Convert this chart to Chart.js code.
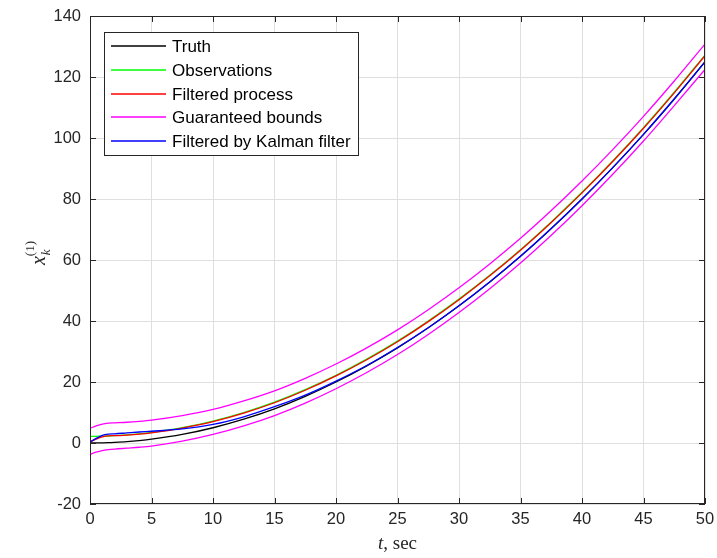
<!DOCTYPE html>
<html>
<head>
<meta charset="utf-8">
<script src="https://cdn.jsdelivr.net/npm/chart.js@4.4.0/dist/chart.umd.min.js"></script>
<style>
  html, body { margin: 0; padding: 0; background: #ffffff; }
  #wrap { width: 717px; height: 558px; }
</style>
</head>
<body>
<div id="wrap"><canvas id="chart"></canvas></div>
<script>
// time samples (sec), denser at the start where the filters settle
const times = [0, 0.5, 1, 1.5, 2, 3, 4, 5, 7.5, 10, 12.5, 15, 17.5, 20, 22.5, 25, 27.5, 30, 32.5, 35, 37.5, 40, 42.5, 45, 47.5, 50];

const truth        = [0, 0.02, 0.05, 0.1, 0.2, 0.45, 0.8, 1.25, 2.8, 5.0, 7.8, 11.2, 15.3, 20.0, 25.3, 31.2, 37.8, 45.0, 52.8, 61.2, 70.3, 80.0, 90.3, 101.2, 112.8, 125.0];
const observations = [2.2, 2.2, 2.25, 2.3, 2.4, 2.65, 3.0, 3.45, 5.0, 7.2, 10.0, 13.4, 17.5, 22.2, 27.5, 33.4, 40.0, 47.2, 55.0, 63.4, 72.5, 82.2, 92.5, 103.4, 115.0, 127.2];
const filtered     = [0.4, 1.3, 2.0, 2.35, 2.4, 2.6, 2.9, 3.35, 4.9, 7.0, 9.8, 13.2, 17.3, 22.0, 27.3, 33.2, 39.8, 47.0, 54.8, 63.2, 72.3, 82.0, 92.3, 103.2, 114.8, 127.0];
const upperBound   = [4.8, 5.6, 6.2, 6.5, 6.6, 6.8, 7.1, 7.5, 9.0, 11.0, 13.8, 17.1, 21.2, 25.9, 31.2, 37.1, 43.7, 50.9, 58.7, 67.1, 76.2, 85.9, 96.2, 107.1, 118.7, 130.8];
const lowerBound   = [-3.7, -3.0, -2.5, -2.2, -2.0, -1.7, -1.4, -1.0, 0.6, 2.8, 5.6, 9.0, 13.1, 17.8, 23.1, 29.0, 35.6, 42.8, 50.6, 59.0, 68.1, 77.8, 88.1, 99.0, 110.6, 122.5];
const kalman       = [0.3, 1.5, 2.5, 2.9, 3.0, 3.3, 3.6, 3.85, 4.6, 6.1, 8.6, 11.9, 15.7, 20.3, 25.4, 31.3, 37.8, 45.0, 52.8, 61.2, 70.3, 80.0, 90.3, 101.2, 112.8, 124.9];

const xTicks = [0, 5, 10, 15, 20, 25, 30, 35, 40, 45, 50];
const yTicks = [-20, 0, 20, 40, 60, 80, 100, 120, 140];

const legendLabels = ['Truth', 'Observations', 'Filtered process', 'Guaranteed bounds', 'Filtered by Kalman filter'];
const legendColors = ['#000000', '#00ff00', '#ff0000', '#ff00ff', '#0000ff'];

const axisColor = '#262626';
const gridColor = '#dfdfdf';
const tickFont = { family: 'Liberation Sans, Arial, sans-serif', size: 16.5 };

function pts(ys) {
  return times.map((t, i) => ({ x: t, y: ys[i] }));
}

function line(label, ys, color, order) {
  return {
    label: label,
    data: pts(ys),
    borderColor: color,
    backgroundColor: color,
    borderWidth: 1.3,
    pointRadius: 0,
    fill: false,
    cubicInterpolationMode: 'monotone',
    order: order
  };
}

// box, inward ticks, legend and axis titles (MATLAB look)
const matlabFrame = {
  id: 'matlabFrame',
  afterDraw(chart) {
    const ctx = chart.ctx;
    const a = chart.chartArea;
    const xs = chart.scales.x, ys = chart.scales.y;
    ctx.save();
    ctx.strokeStyle = axisColor;
    ctx.lineWidth = 1;
    ctx.strokeRect(Math.round(a.left) + 0.5, Math.round(a.top) + 0.5, Math.round(a.right - a.left) - 1, Math.round(a.bottom - a.top) - 1);

    const tl = 6;
    ctx.beginPath();
    xTicks.forEach(v => {
      const px = Math.round(xs.getPixelForValue(v)) + 0.5;
      ctx.moveTo(px, a.bottom); ctx.lineTo(px, a.bottom - tl);
      ctx.moveTo(px, a.top); ctx.lineTo(px, a.top + tl);
    });
    yTicks.forEach(v => {
      const py = Math.round(ys.getPixelForValue(v)) + 0.5;
      ctx.moveTo(a.left, py); ctx.lineTo(a.left + tl, py);
      ctx.moveTo(a.right, py); ctx.lineTo(a.right - tl, py);
    });
    ctx.stroke();

    // legend
    const lx = 104, ly = 32, lw = 254, lh = 123;
    ctx.fillStyle = '#ffffff';
    ctx.fillRect(lx, ly, lw, lh);
    ctx.strokeStyle = axisColor;
    ctx.lineWidth = 1;
    ctx.strokeRect(lx + 0.5, ly + 0.5, lw, lh);
    ctx.font = '17px "Liberation Sans", Arial, sans-serif';
    ctx.textBaseline = 'middle';
    ctx.textAlign = 'left';
    for (let i = 0; i < legendLabels.length; i++) {
      const cy = Math.round(46 + i * 23.8);
      ctx.beginPath();
      ctx.strokeStyle = legendColors[i];
      ctx.lineWidth = 1.5;
      ctx.moveTo(111, cy);
      ctx.lineTo(166, cy);
      ctx.stroke();
      ctx.fillStyle = '#000000';
      ctx.fillText(legendLabels[i], 172, cy + 1);
    }

    // x title: "t, sec"
    ctx.fillStyle = axisColor;
    ctx.textBaseline = 'alphabetic';
    const cx = (a.left + a.right) / 2;
    ctx.font = 'italic 19px "Liberation Serif", "DejaVu Serif", serif';
    const wT = ctx.measureText('t').width;
    ctx.font = '19px "Liberation Serif", "DejaVu Serif", serif';
    const wRest = ctx.measureText(', sec').width;
    const sx = cx - (wT + wRest) / 2;
    ctx.font = 'italic 19px "Liberation Serif", "DejaVu Serif", serif';
    ctx.fillText('t', sx, 549);
    ctx.font = '19px "Liberation Serif", "DejaVu Serif", serif';
    ctx.fillText(', sec', sx + wT, 549);

    // y title: x_k^(1), rotated
    ctx.translate(45, 253);
    ctx.rotate(-Math.PI / 2);
    ctx.font = 'italic 20px "Liberation Serif", "DejaVu Serif", serif';
    const wx = ctx.measureText('x').width;
    ctx.font = '13px "Liberation Serif", "DejaVu Serif", serif';
    const wsup = ctx.measureText('(1)').width;
    const ox = -(wx + wsup) / 2;
    ctx.font = 'italic 20px "Liberation Serif", "DejaVu Serif", serif';
    ctx.fillText('x', ox, 0);
    ctx.font = 'italic 13px "Liberation Serif", "DejaVu Serif", serif';
    ctx.fillText('k', ox + wx + 1, 5);
    ctx.font = '13px "Liberation Serif", "DejaVu Serif", serif';
    ctx.fillText('(1)', ox + wx, -11);
    ctx.restore();
  }
};

new Chart(document.getElementById('chart'), {
  type: 'line',
  data: {
    datasets: [
      line('Truth', truth, '#000000', 4),
      line('Observations', observations, '#00ff00', 3),
      line('Filtered process', filtered, '#ff0000', 2),
      line('Guaranteed bounds', upperBound, '#ff00ff', 1),
      line('Guaranteed bounds (lower)', lowerBound, '#ff00ff', 1),
      line('Filtered by Kalman filter', kalman, '#0000ff', 0)
    ]
  },
  options: {
    responsive: true,
    maintainAspectRatio: false,
    animation: false,
    layout: { padding: { left: 0, right: 12, top: 16, bottom: 0 } },
    plugins: {
      legend: { display: false },
      tooltip: { enabled: false }
    },
    scales: {
      x: {
        type: 'linear',
        min: 0,
        max: 50,
        afterFit: s => { s.height = 54; s.paddingLeft = 0; s.paddingRight = 0; },
        afterBuildTicks: s => { s.ticks = xTicks.map(v => ({ value: v })); },
        grid: { color: gridColor, drawTicks: false },
        border: { display: false },
        ticks: { color: axisColor, font: tickFont, padding: 6, maxRotation: 0 }
      },
      y: {
        type: 'linear',
        min: -20,
        max: 140,
        afterFit: s => { s.width = 90; s.paddingTop = 0; s.paddingBottom = 0; },
        afterBuildTicks: s => { s.ticks = yTicks.map(v => ({ value: v })); },
        grid: { color: gridColor, drawTicks: false },
        border: { display: false },
        ticks: { color: axisColor, font: tickFont, padding: 9 }
      }
    }
  },
  plugins: [matlabFrame]
});
</script>
</body>
</html>
